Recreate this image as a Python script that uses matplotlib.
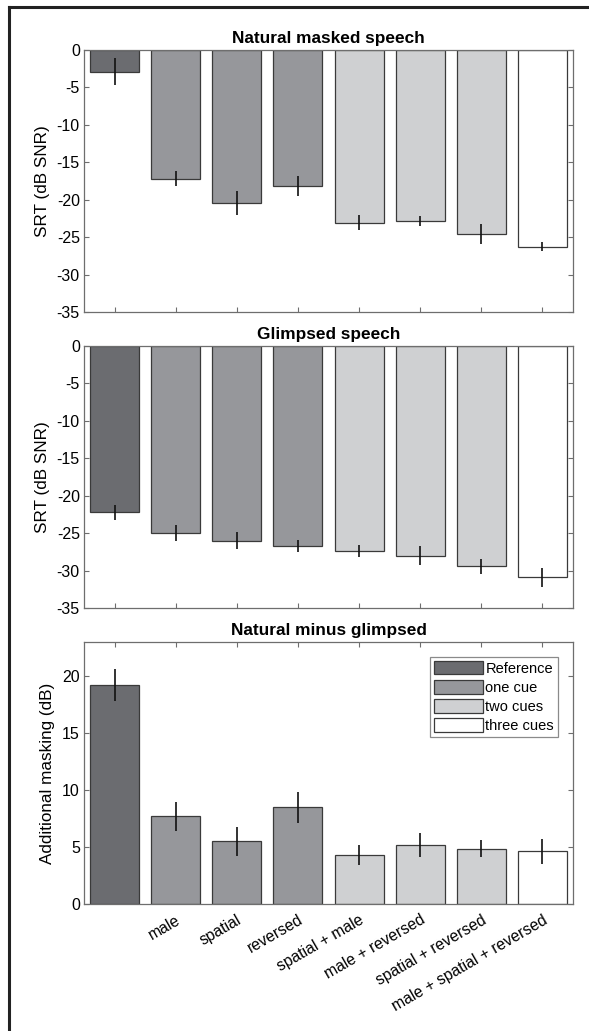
import numpy as np
import matplotlib.pyplot as plt
from matplotlib.patches import Patch

plt.rcParams['font.family'] = ['Liberation Sans', 'DejaVu Sans']
plt.rcParams['axes.unicode_minus'] = False

conditions = ['', 'male', 'spatial', 'reversed', 'spatial + male',
              'male + reversed', 'spatial + reversed', 'male + spatial + reversed']
groups = [0, 1, 1, 1, 2, 2, 2, 3]
group_names = ['Reference', 'one cue', 'two cues', 'three cues']
group_colors = ['#6b6c70', '#96979b', '#cfd0d2', '#ffffff']

natural = [-2.9, -17.2, -20.5, -18.2, -23.1, -22.8, -24.6, -26.3]
natural_err = [1.8, 1.0, 1.6, 1.35, 1.0, 0.65, 1.3, 0.6]
glimpsed = [-22.2, -25.0, -26.0, -26.7, -27.4, -28.0, -29.4, -30.9]
glimpsed_err = [1.0, 1.1, 1.1, 0.8, 0.85, 1.25, 1.0, 1.25]
diff = [19.2, 7.7, 5.5, 8.5, 4.3, 5.2, 4.85, 4.65]
diff_err = [1.4, 1.25, 1.3, 1.35, 0.9, 1.05, 0.75, 1.1]

W, H = 589, 1031
fig = plt.figure(figsize=(W / 100, H / 100), dpi=100)

# cropped frame: only top and left edges show
fig.add_artist(plt.Line2D([9 / W, 9 / W], [0, 1 - 7 / H], transform=fig.transFigure,
                          color='#222222', lw=2.2))
fig.add_artist(plt.Line2D([9 / W, 1], [1 - 7 / H, 1 - 7 / H], transform=fig.transFigure,
                          color='#222222', lw=2.2))

x = np.arange(1, len(conditions) + 1)
colors = [group_colors[g] for g in groups]
spine_c = '#6e6e6e'


def panel(top, bottom, vals, errs, title, ylim, yticks, ylabel, labels=False):
    ax = fig.add_axes([84 / W, 1 - bottom / H, 489 / W, (bottom - top) / H])
    ax.bar(x, vals, width=0.8, color=colors, edgecolor='#3a3a3a', linewidth=0.9, zorder=2)
    ax.errorbar(x, vals, yerr=errs, fmt='none', ecolor='#111111', elinewidth=1.2,
                capsize=0, zorder=3)
    ax.set_xlim(0.5, 8.5)
    ax.set_ylim(*ylim)
    ax.set_yticks(yticks)
    ax.set_xticks(x)
    ax.tick_params(direction='in', top=True, right=True, length=3.5, width=0.8,
                   color=spine_c, labelsize=11.5, pad=3)
    for s in ax.spines.values():
        s.set_color(spine_c)
        s.set_linewidth(0.9)
    ax.set_title(title, fontsize=12.4, fontweight='bold', pad=5)
    ax.set_ylabel(ylabel, fontsize=12.3, labelpad=5)
    if labels:
        ax.set_xticklabels(conditions, rotation=30, ha='right', rotation_mode='anchor',
                           fontsize=11.3)
        ax.tick_params(axis='x', pad=6)
    else:
        ax.set_xticklabels([])
    return ax


panel(50, 312, natural, natural_err, 'Natural masked speech', (-35, 0),
      np.arange(-35, 1, 5), 'SRT (dB SNR)')
panel(346, 608, glimpsed, glimpsed_err, 'Glimpsed speech', (-35, 0),
      np.arange(-35, 1, 5), 'SRT (dB SNR)')
ax3 = panel(642, 904, diff, diff_err, 'Natural minus glimpsed', (0, 23),
            np.arange(0, 21, 5), 'Additional masking (dB)', labels=True)

handles = [Patch(facecolor=c, edgecolor='#3a3a3a', linewidth=0.9) for c in group_colors]
leg = ax3.legend(handles, group_names, loc='upper right', fontsize=10.5,
                 handlelength=3.3, handleheight=1.05, handletextpad=0.2,
                 labelspacing=0.3, borderpad=0.3, borderaxespad=1.0,
                 fancybox=False, framealpha=1)
leg.get_frame().set_edgecolor('#8a8a8a')
leg.get_frame().set_linewidth(0.9)

fig.savefig('out.png', dpi=100)
